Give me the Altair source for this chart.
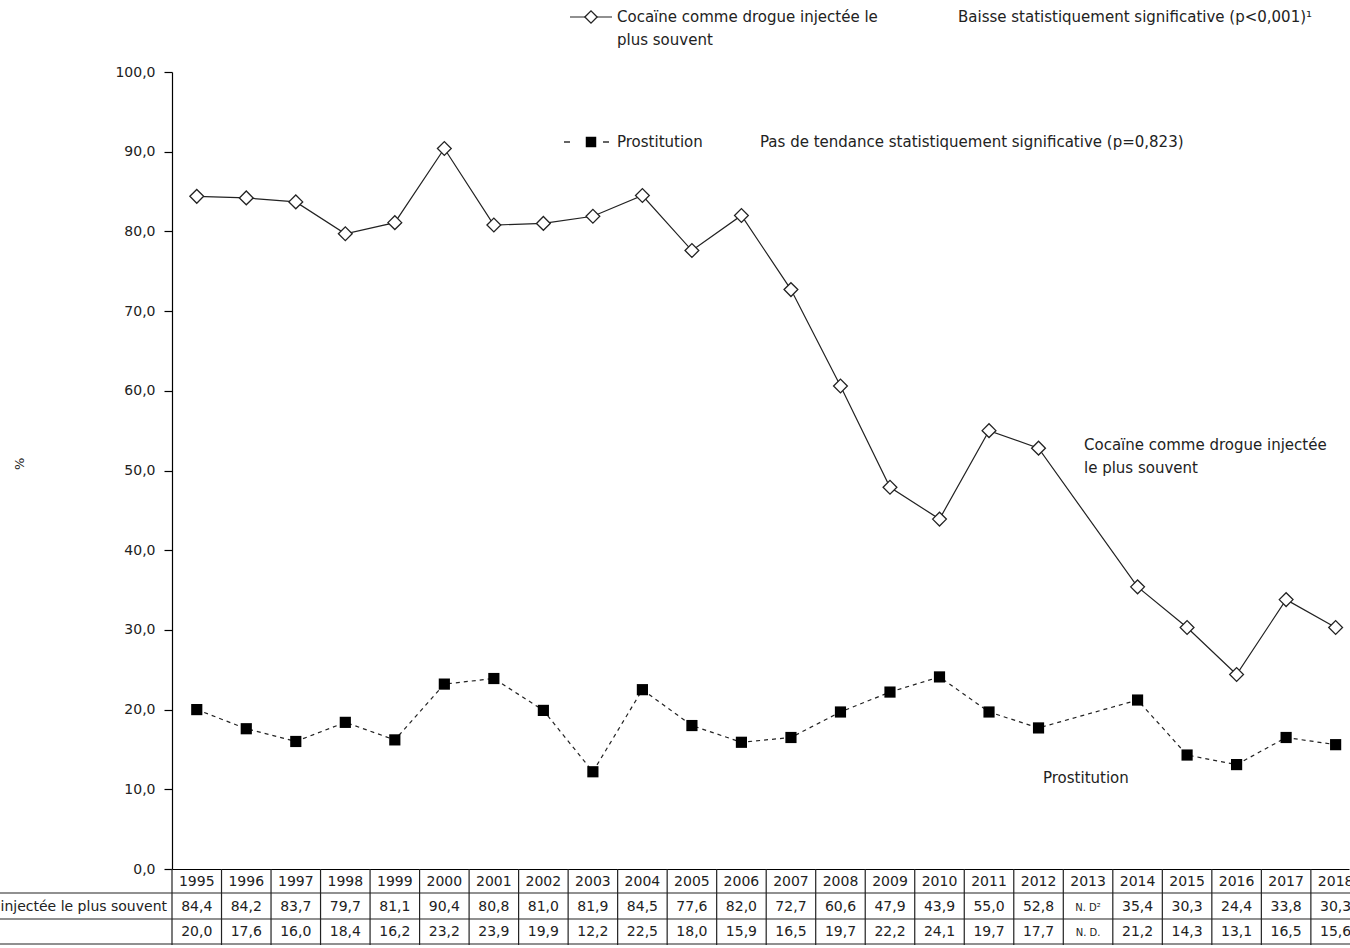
import altair as alt
import pandas as pd

# Annual series (%), 2013 not available
annees = list(range(1995, 2019))
cocaine = [84.4, 84.2, 83.7, 79.7, 81.1, 90.4, 80.8, 81.0, 81.9, 84.5, 77.6, 82.0,
           72.7, 60.6, 47.9, 43.9, 55.0, 52.8, None, 35.4, 30.3, 24.4, 33.8, 30.3]
prostitution = [20.0, 17.6, 16.0, 18.4, 16.2, 23.2, 23.9, 19.9, 12.2, 22.5, 18.0, 15.9,
                16.5, 19.7, 22.2, 24.1, 19.7, 17.7, None, 21.2, 14.3, 13.1, 16.5, 15.6]
graduations_y = [0, 10, 20, 30, 40, 50, 60, 70, 80, 90, 100]

nom_cocaine = "Cocaïne comme drogue injectée le plus souvent"
nom_prostitution = "Prostitution"


def fr(v, nd):
    return nd if v is None else f"{v:.1f}".replace(".", ",")


df = pd.DataFrame({
    "annee": annees,
    "cocaine": cocaine,
    "prostitution": prostitution,
    "txt_annee": [str(a) for a in annees],
    "txt_cocaine": [fr(v, "N. D²") for v in cocaine],
    "txt_prostitution": [fr(v, "N. D.") for v in prostitution],
})

W, H = 1177, 797
PAD = {"left": 172, "top": 72, "right": 1, "bottom": 79}
FONT = "DejaVu Sans"
INK = "#222222"

xs = alt.Scale(domain=[1994.5, 2018.27], nice=False, zero=False)
ys = alt.Scale(domain=[0, 100], nice=False)

base = alt.Chart(df)

x_axis = alt.X("annee:Q", scale=xs,
               axis=alt.Axis(labels=False, ticks=False, grid=False, title=None,
                             domainColor="black", domainWidth=1.2))

ligne_coc = base.transform_filter("isValid(datum.cocaine)").mark_line(
    color=INK, strokeWidth=1.2
).encode(
    x=x_axis,
    y=alt.Y("cocaine:Q", scale=ys,
            axis=alt.Axis(values=graduations_y, grid=False, title=None,
                          labelExpr="replace(format(datum.value, '.1f'), '.', ',')",
                          labelFont=FONT, labelFontSize=14, labelColor=INK,
                          labelPadding=9, tickSize=8, tickColor="black",
                          domainColor="black", domainWidth=1.2, tickWidth=1.2)),
)

pts_coc = base.transform_filter("isValid(datum.cocaine)").mark_point(
    shape="diamond", size=190, filled=True, fill="white", stroke=INK,
    strokeWidth=1.3, opacity=1
).encode(x=alt.X("annee:Q", scale=xs), y=alt.Y("cocaine:Q", scale=ys))

ligne_pro = base.transform_filter("isValid(datum.prostitution)").mark_line(
    color=INK, strokeWidth=1.2, strokeDash=[4, 4]
).encode(x=alt.X("annee:Q", scale=xs), y=alt.Y("prostitution:Q", scale=ys))

pts_pro = base.transform_filter("isValid(datum.prostitution)").mark_point(
    shape="square", size=125, filled=True, color="black", opacity=1
).encode(x=alt.X("annee:Q", scale=xs), y=alt.Y("prostitution:Q", scale=ys))

# Data table under the plot
grille_v = base.transform_calculate(bord="datum.annee - 0.5").mark_rule(
    color=INK, strokeWidth=1.2
).encode(x=alt.X("bord:Q", scale=xs), y=alt.value(H), y2=alt.value(H + 76))

lignes_h = [H + 24, H + 50, H + 75]
grille_h = alt.layer(*[
    alt.Chart(df.head(1)).mark_rule(color=INK, strokeWidth=1.2).encode(
        x=alt.value(-PAD["left"]), x2=alt.value(W + 5), y=alt.value(yv))
    for yv in lignes_h
])


def ligne_table(champ, serie, yv):
    valide = base.transform_filter(f"isValid(datum.{serie})").mark_text(
        font=FONT, fontSize=14, color=INK, baseline="middle"
    ).encode(x=alt.X("annee:Q", scale=xs), y=alt.value(yv), text=f"{champ}:N")
    manquant = base.transform_filter(f"!isValid(datum.{serie})").mark_text(
        font=FONT, fontSize=10, color=INK, baseline="middle"
    ).encode(x=alt.X("annee:Q", scale=xs), y=alt.value(yv + 1), text=f"{champ}:N")
    return valide + manquant


tab_annee = base.mark_text(font=FONT, fontSize=14, color=INK, baseline="middle").encode(
    x=alt.X("annee:Q", scale=xs), y=alt.value(H + 13), text="txt_annee:N")
tab_coc = ligne_table("txt_cocaine", "cocaine", H + 38)
tab_pro = ligne_table("txt_prostitution", "prostitution", H + 63)

etiq_ligne = alt.Chart(df.head(1)).mark_text(
    font=FONT, fontSize=14, color=INK, align="right", baseline="middle"
).encode(x=alt.value(-5), y=alt.value(H + 38), text=alt.value(nom_cocaine))


def texte(txt, x, y, align="left", angle=0, size=15):
    return alt.Chart(df.head(1)).mark_text(
        font=FONT, fontSize=size, color=INK, align=align, baseline="middle",
        angle=angle, lineHeight=23
    ).encode(x=alt.value(x - PAD["left"]), y=alt.value(y - PAD["top"]), text=alt.value(txt))


# Legend keys
leg_ligne = alt.Chart(df.head(1)).mark_rule(color=INK, strokeWidth=1.2).encode(
    x=alt.value(570 - PAD["left"]), x2=alt.value(612 - PAD["left"]), y=alt.value(17 - PAD["top"]))
leg_diam = alt.Chart(df.head(1)).mark_point(
    shape="diamond", size=150, filled=True, fill="white", stroke=INK, strokeWidth=1.3, opacity=1
).encode(x=alt.value(591 - PAD["left"]), y=alt.value(17 - PAD["top"]))
leg_tirets = alt.layer(*[
    alt.Chart(df.head(1)).mark_rule(color=INK, strokeWidth=1.4).encode(
        x=alt.value(a - PAD["left"]), x2=alt.value(b - PAD["left"]), y=alt.value(142 - PAD["top"]))
    for a, b in [(564, 570), (603, 609)]
])
leg_carre = alt.Chart(df.head(1)).mark_point(
    shape="square", size=110, filled=True, color="black", opacity=1
).encode(x=alt.value(591 - PAD["left"]), y=alt.value(142 - PAD["top"]))

annotations = alt.layer(
    texte(["Cocaïne comme drogue injectée le", "plus souvent"], 617, 17),
    texte("Baisse statistiquement significative (p<0,001)¹", 958, 17),
    texte(nom_prostitution, 617, 142),
    texte("Pas de tendance statistiquement significative (p=0,823)", 760, 142),
    texte(["Cocaïne comme drogue injectée", "le plus souvent"], 1084, 445),
    texte(nom_prostitution, 1043, 778),
    texte("%", 20, 470, angle=270, size=13),
)

chart = alt.layer(
    ligne_coc, pts_coc, ligne_pro, pts_pro,
    grille_v, grille_h, tab_annee, tab_coc, tab_pro, etiq_ligne,
    leg_ligne, leg_diam, leg_tirets, leg_carre, annotations,
).properties(
    width=W, height=H,
    autosize=alt.AutoSizeParams(type="none"),
    padding=PAD,
    background="white",
).configure_view(stroke=None)

chart.save("out.html", embed_options={"renderer": "svg", "actions": False})
